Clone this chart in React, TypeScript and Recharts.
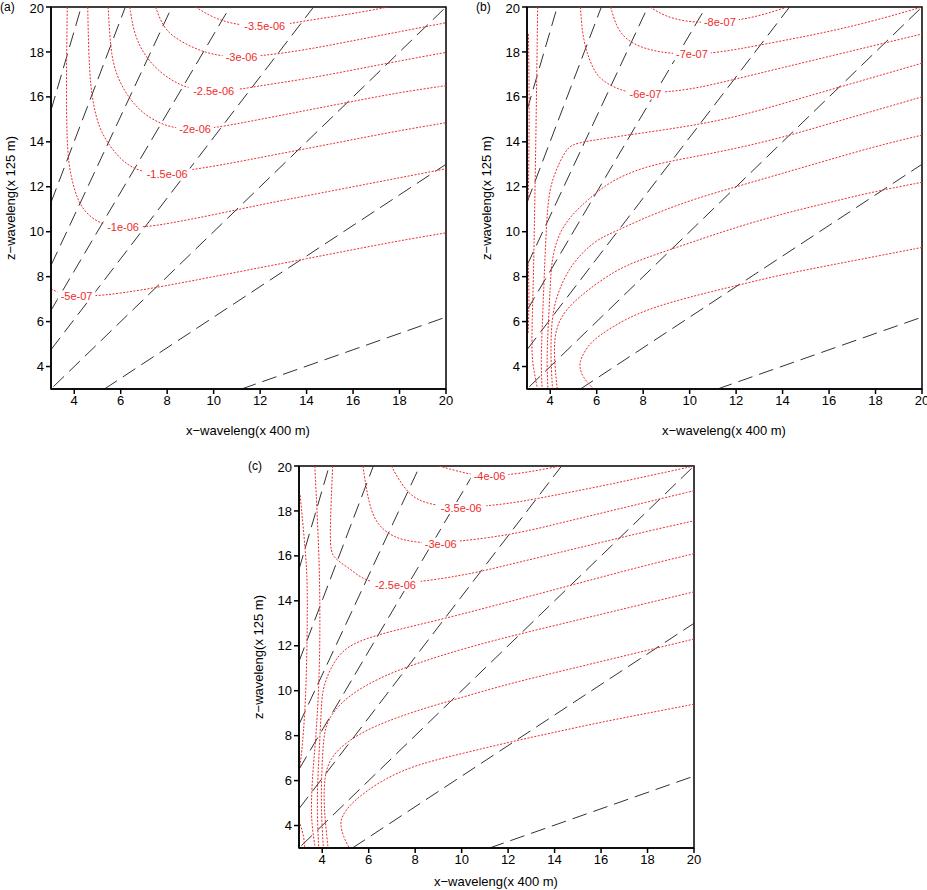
import { LineChart, Line, XAxis, YAxis, ReferenceArea, ReferenceDot } from "recharts";

type P = { x: number; y: number };
const pts = (a: number[][]): P[] => a.map(([x, y]) => ({ x, y }));

const ticks = [4, 6, 8, 10, 12, 14, 16, 18, 20];

// dashed reference lines (same in every panel)
const dashedLines = [
  [[11.2, 3], [20, 6.2]],
  [[5.3, 3], [20, 13]],
  [[3.1, 3.1], [20, 20]],
  [[3, 4.75], [14.3, 20]],
  [[3, 6.5], [10.7, 20]],
  [[3, 8.5], [8.2, 20]],
  [[3, 11.3], [6.2, 20]],
  [[3, 15.4], [4.3, 20]],
];

// panel (a) contours
const contoursA = [
  [[3, 7.45], [3.5, 7.2], [4.5, 7.1], [6, 7.25], [8, 7.6], [10, 8.0], [12, 8.4], [14, 8.8], [16, 9.2], [18, 9.6], [20, 9.95]],
  [[3.7, 20], [3.65, 16], [3.7, 13.5], [3.85, 12.5], [4.1, 11.5], [4.5, 10.8], [5.2, 10.3], [6, 10.2], [7, 10.2], [8, 10.35], [10, 10.75], [12, 11.2], [14, 11.6], [16, 12], [18, 12.4], [20, 12.8]],
  [[4.58, 20], [4.62, 18], [4.7, 16.5], [4.85, 15.5], [5.13, 14.4], [5.85, 13.35], [6.56, 12.76], [7.57, 12.53], [10, 12.9], [12, 13.3], [14, 13.7], [16, 14.1], [18, 14.5], [20, 14.85]],
  [[5.46, 20], [5.56, 18.1], [5.77, 17.06], [6.28, 16.02], [6.99, 15.2], [8, 14.65], [9, 14.55], [10, 14.6], [12, 15.0], [14, 15.4], [16, 15.8], [18, 16.2], [20, 16.5]],
  [[6.39, 20], [6.56, 18.84], [6.99, 17.88], [7.7, 17.06], [8.57, 16.5], [9.44, 16.25], [11, 16.3], [12, 16.5], [14, 16.8], [16, 17.2], [18, 17.6], [20, 17.98]],
  [[7.5, 20], [7.86, 18.99], [8.57, 18.47], [9.44, 18.03], [10.44, 17.77], [12, 17.8], [14, 18.1], [16, 18.5], [18, 18.9], [20, 19.3]],
  [[9.22, 20], [10, 19.5], [11, 19.2], [12, 19.15], [13, 19.2], [14, 19.4], [16, 19.7], [17.5, 20]],
];
const labelsA = [
  { x: 4.1, y: 7.12, t: "-5e-07" },
  { x: 6.1, y: 10.2, t: "-1e-06" },
  { x: 8.0, y: 12.55, t: "-1.5e-06" },
  { x: 9.2, y: 14.57, t: "-2e-06" },
  { x: 10.0, y: 16.27, t: "-2.5e-06" },
  { x: 11.2, y: 17.78, t: "-3e-06" },
  { x: 12.2, y: 19.17, t: "-3.5e-06" },
];

// panel (b) contours
const contoursB = [
  [[3.06, 18.8], [3.1, 16], [3.08, 13], [3.05, 11.4]],
  [[3.05, 8.7], [3.1, 7], [3.05, 5.5]],
  [[3.46, 20], [3.42, 17], [3.38, 14], [3.33, 11], [3.28, 8], [3.22, 6], [3.2, 4.5], [3.3, 3.8], [3.45, 3]],
  [[20, 17.5], [18, 16.9], [16, 16.3], [14, 15.7], [12, 15.1], [10, 14.7], [8, 14.4], [6, 14.1], [5.2, 13.95], [4.77, 13.8], [4.4, 13.1], [4.08, 12.3], [3.9, 11.4], [3.8, 9.5], [3.72, 7.5], [3.65, 5.6], [3.6, 4.2], [3.65, 3]],
  [[20, 16.0], [18, 15.4], [16, 14.8], [14, 14.2], [12, 13.7], [10, 13.3], [8, 12.9], [6.5, 12.2], [5.6, 11.4], [5.07, 10.9], [4.43, 10.1], [4.07, 8.9], [4.0, 7.56], [3.9, 5.6], [3.85, 4.2], [3.9, 3]],
  [[20, 14.3], [18, 13.8], [16, 13.2], [14, 12.6], [12, 12.0], [10, 11.4], [8, 10.6], [6.8, 10.0], [5.94, 9.64], [4.93, 8.6], [4.35, 7.4], [4.08, 6.3], [4.02, 5], [4.05, 3.8], [4.1, 3]],
  [[20, 12.2], [18, 11.8], [16, 11.3], [14, 10.8], [12, 10.2], [10, 9.5], [8, 8.8], [6.8, 8.3], [5.2, 7.1], [4.4, 6.2], [4.15, 5.2], [4.2, 4], [4.3, 3]],
  [[20, 9.3], [18, 8.9], [16, 8.5], [14, 8.1], [12, 7.6], [10, 7.1], [8, 6.5], [6.7, 5.8], [5.65, 5.05], [5.3, 4.3], [5.25, 4.0], [5.4, 3.5], [5.87, 3]],
  [[5.3, 20], [5.4, 18.5], [5.8, 17.3], [6.2, 16.7], [7.2, 16.2], [8.1, 16.15], [10, 16.3], [12, 16.8], [14, 17.3], [16, 17.8], [18, 18.3], [20, 18.8]],
  [[6.6, 20], [6.9, 18.9], [7.6, 18.3], [8.6, 18.0], [9.6, 17.9], [10.6, 17.9], [12, 18.1], [14, 18.5], [16, 18.9], [18, 19.4], [20, 20]],
  [[8.3, 20], [8.9, 19.6], [9.8, 19.35], [10.8, 19.3], [12, 19.4], [13, 19.6], [14.2, 20]],
];
const labelsB = [
  { x: 8.1, y: 16.15, t: "-6e-07" },
  { x: 10.1, y: 17.9, t: "-7e-07" },
  { x: 11.3, y: 19.32, t: "-8e-07" },
];

// panel (c) contours
const contoursC = [
  [[3.05, 18.7], [3.3, 16], [3.38, 14.5], [3.32, 10], [3.15, 7.5], [3.02, 6.5]],
  [[3.0, 4.2], [3.2, 3.6], [3.25, 3]],
  [[3.68, 20], [3.87, 16.04], [3.9, 13.8], [3.9, 12], [3.85, 10], [3.72, 7.8], [3.6, 6.5], [3.52, 5], [3.55, 4], [3.7, 3]],
  [[20, 16.1], [18, 15.6], [16, 15.05], [14, 14.5], [12, 13.95], [10, 13.4], [8, 12.9], [6.2, 12.45], [4.91, 11.93], [4.33, 10.96], [4.0, 10.05], [3.95, 9], [3.88, 7.5], [3.8, 6], [3.78, 4.5], [3.85, 3]],
  [[20, 14.4], [18, 13.9], [16, 13.4], [14, 12.9], [12, 12.4], [10, 11.85], [8, 11.2], [6.5, 10.6], [5.05, 9.76], [4.19, 8.71], [4.05, 7.8], [3.98, 6.5], [3.95, 5], [4.0, 3.8], [4.05, 3]],
  [[20, 12.3], [18, 11.8], [16, 11.3], [14, 10.8], [12, 10.3], [10, 9.7], [8, 9.1], [6.2, 8.42], [5.05, 7.74], [4.33, 7.0], [4.1, 6.2], [4.07, 5.2], [4.12, 4.3], [4.2, 3.5], [4.25, 3]],
  [[20, 9.4], [18, 9.0], [16, 8.6], [14, 8.15], [12, 7.7], [10, 7.2], [8, 6.7], [6.5, 6.0], [5.2, 4.98], [4.85, 4.4], [4.77, 4.08], [4.9, 3.5], [5.17, 3]],
  [[4.45, 20], [4.3, 16.5], [4.45, 15.9], [5.2, 15.44], [5.85, 14.84], [7.15, 14.7], [10, 15.1], [12, 15.6], [14, 16.1], [16, 16.6], [18, 17.1], [20, 17.56]],
  [[5.75, 20], [6.0, 18.28], [6.36, 17.38], [7.08, 16.8], [8, 16.6], [9.1, 16.55], [12, 16.9], [14, 17.4], [16, 17.9], [18, 18.4], [20, 18.9]],
  [[6.97, 20], [7.66, 18.73], [8.53, 18.28], [9.98, 18.13], [12, 18.3], [14, 18.7], [16, 19.1], [18, 19.55], [20, 20]],
  [[9.03, 20], [10.4, 19.6], [11.2, 19.55], [12.5, 19.65], [14.25, 20]],
];
const labelsC = [
  { x: 7.15, y: 14.7, t: "-2.5e-06" },
  { x: 9.1, y: 16.55, t: "-3e-06" },
  { x: 9.98, y: 18.13, t: "-3.5e-06" },
  { x: 11.2, y: 19.55, t: "-4e-06" },
];

const FONT = "'Liberation Sans', Arial, sans-serif";
const RED = "#ee2b2b";

const ContourLabel = (t: string) => (props: any) => {
  const { cx, cy } = props;
  const w = t.length * 6.3;
  return (
    <g>
      <rect x={cx - w / 2} y={cy - 6} width={w} height={12} fill="#fff" />
      <text x={cx} y={cy + 4} textAnchor="middle" fontSize={11} fill={RED} fontFamily={FONT}>
        {t}
      </text>
    </g>
  );
};

function Panel({
  left, top, contours, labels, tag, xLabelTop = 423,
}: {
  left: number; top: number; contours: number[][][]; labels: { x: number; y: number; t: string }[]; tag: string; xLabelTop?: number;
}) {
  return (
    <div style={{ position: "absolute", left, top, width: 470, height: 440 }}>
      <LineChart width={460} height={430} margin={{ top: 7, right: 14, bottom: 10, left: 20 }}>
        <XAxis
          type="number" dataKey="x" domain={[3, 20]} ticks={ticks} allowDataOverflow
          tickSize={5} height={31} stroke="#000" strokeWidth={1.5}
          tick={{ fontSize: 13, fill: "#000", fontFamily: FONT }}
        />
        <YAxis
          type="number" dataKey="y" domain={[3, 20]} ticks={ticks} allowDataOverflow
          tickSize={5} width={31} stroke="#000" strokeWidth={1.5}
          tick={{ fontSize: 13, fill: "#000", fontFamily: FONT }}
        />
        {dashedLines.map((l, i) => (
          <Line key={"d" + i} data={pts(l)} dataKey="y" stroke="#333" strokeWidth={1}
            strokeDasharray="15 7" dot={false} isAnimationActive={false} />
        ))}
        {contours.map((c, i) => (
          <Line key={"c" + i} data={pts(c)} dataKey="y" type="basis" stroke={RED} strokeWidth={1}
            strokeDasharray="2 1.5" dot={false} isAnimationActive={false} />
        ))}
        {labels.map((l, i) => (
          <ReferenceDot key={"l" + i} x={l.x} y={l.y} r={0} shape={ContourLabel(l.t)} />
        ))}
        <ReferenceArea x1={3} x2={20} y1={3} y2={20} fill="none" stroke="#000" strokeWidth={1.5} />
      </LineChart>
      <div style={{ position: "absolute", left: 0, top: 0, fontSize: 12, fontFamily: FONT }}>{tag}</div>
      <div style={{ position: "absolute", left: 51, width: 394, top: xLabelTop, textAlign: "center", fontSize: 13, fontFamily: FONT }}>
        x−waveleng(x 400 m)
      </div>
      <div style={{
        position: "absolute", left: 10, top: 198, fontSize: 13, fontFamily: FONT, whiteSpace: "nowrap",
        transform: "translate(-50%, -50%) rotate(-90deg)",
      }}>
        z−waveleng(x 125 m)
      </div>
    </div>
  );
}

export default function App() {
  return (
    <div style={{ position: "absolute", left: 0, top: 0, width: 927, height: 890, background: "#fff", overflow: "hidden" }}>
      <Panel left={0} top={0} contours={contoursA} labels={labelsA} tag="(a)" />
      <Panel left={476} top={0} contours={contoursB} labels={labelsB} tag="(b)" />
      <Panel left={248} top={459} contours={contoursC} labels={labelsC} tag="(c)" xLabelTop={415} />
    </div>
  );
}
